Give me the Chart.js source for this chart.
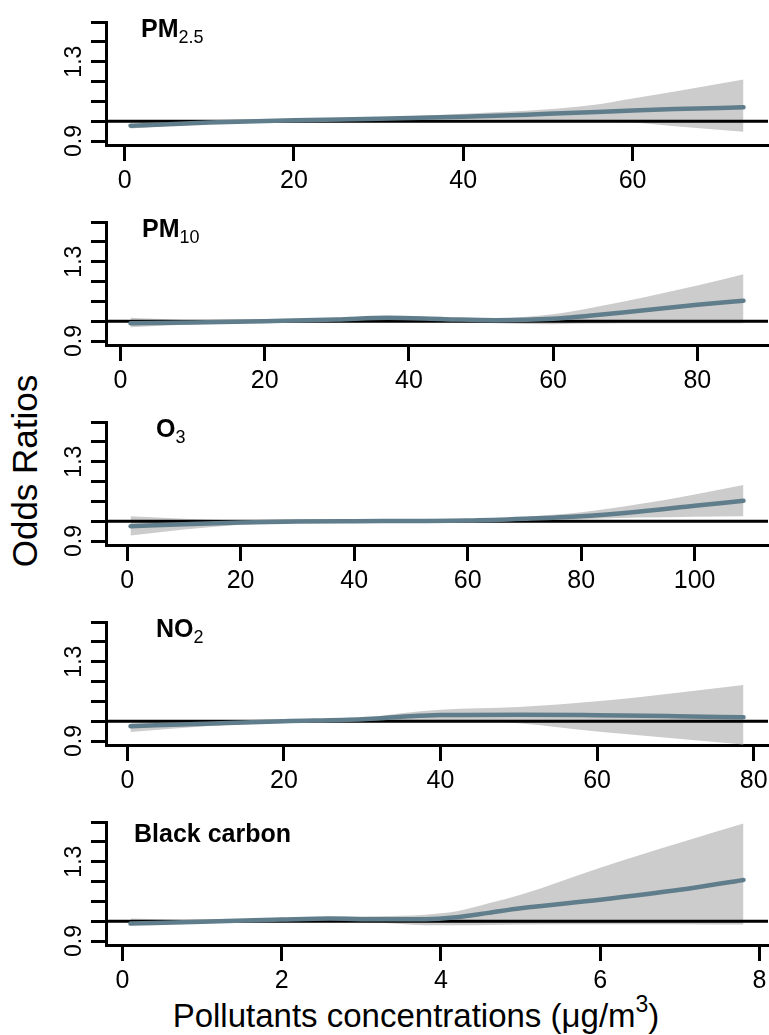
<!DOCTYPE html>
<html>
<head>
<meta charset="utf-8">
<script src="https://cdn.jsdelivr.net/npm/chart.js@4.4.1/dist/chart.umd.min.js"></script>
<style>
  body { margin: 0; background: #fff; }
  #wrap { position: relative; width: 769px; height: 1035px; overflow: hidden; background: #fff;
          font-family: "Liberation Sans", Arial, Helvetica, sans-serif; color: #000; }
  .panel { position: absolute; left: 0; width: 769px; height: 200px; overflow: hidden; }
  .panel canvas { position: absolute; left: 0; top: 0; }
  .tag { position: absolute; font-weight: bold; font-size: 25px; line-height: 1; white-space: nowrap; }
  .tag .sub { font-weight: normal; font-size: 18px; position: relative; top: 6px; }
  #ylab { position: absolute; left: 24px; top: 471px; font-size: 35px; line-height: 1; white-space: nowrap;
          transform: translate(-50%, -50%) rotate(-90deg); }
  #xlab { position: absolute; left: 416px; top: 999px; font-size: 33px; line-height: 1; white-space: nowrap;
          transform: translateX(-50%); }
  #xlab .sup { font-size: 23px; position: relative; top: -15px; }
</style>
</head>
<body>
<div id="wrap">
  <div id="ylab">Odds Ratios</div>
  <div id="xlab">Pollutants concentrations (μg/m<span class="sup">3</span>)</div>
</div>
<script>
// y axis (shared by every panel)
const yTicks = [0.9, 1.0, 1.1, 1.2, 1.3, 1.4, 1.5];
const yLabelled = [0.9, 1.3];
const yMin = 0.88, yMax = 1.5;

// PM2.5
const pm25X = [0.7, 10, 20, 30, 40, 50, 55, 60, 65, 73.1];
const pm25OR = [0.977, 0.993, 1.005, 1.012, 1.022, 1.037, 1.045, 1.054, 1.061, 1.070];
const pm25Hi = [0.985, 0.998, 1.009, 1.018, 1.037, 1.060, 1.080, 1.115, 1.150, 1.210];
const pm25Lo = [0.963, 0.988, 1.001, 1.006, 1.010, 1.005, 1.000, 0.993, 0.975, 0.947];
const pm25Ticks = [0, 20, 40, 60];

// PM10
const pm10X = [1.4, 10, 20, 30, 37, 45, 52, 60, 65, 70, 75, 80, 86.4];
const pm10OR = [0.990, 0.993, 1.000, 1.008, 1.017, 1.010, 1.005, 1.012, 1.028, 1.045, 1.064, 1.083, 1.103];
const pm10Hi = [1.017, 1.005, 1.003, 1.013, 1.022, 1.017, 1.015, 1.035, 1.065, 1.100, 1.140, 1.180, 1.237];
const pm10Lo = [0.970, 0.985, 0.997, 1.003, 1.010, 1.000, 0.990, 0.985, 0.988, 0.990, 0.990, 0.990, 0.990];
const pm10Ticks = [0, 20, 40, 60, 80];

// O3
const o3X = [0.6, 10, 20, 30, 40, 50, 60, 70, 80, 90, 100, 108.6];
const o3OR = [0.975, 0.985, 0.993, 0.998, 1.000, 1.001, 1.003, 1.012, 1.025, 1.048, 1.078, 1.103];
const o3Hi = [1.025, 1.012, 1.004, 1.002, 1.003, 1.004, 1.007, 1.022, 1.045, 1.085, 1.135, 1.183];
const o3Lo = [0.928, 0.958, 0.982, 0.994, 0.997, 0.998, 1.000, 1.004, 1.010, 1.018, 1.023, 1.025];
const o3Ticks = [0, 20, 40, 60, 80, 100];

// NO2
const no2X = [0.4, 10, 20, 30, 35, 40, 50, 60, 70, 78.7];
const no2OR = [0.975, 0.987, 1.000, 1.010, 1.022, 1.031, 1.033, 1.030, 1.025, 1.020];
const no2Hi = [0.990, 0.995, 1.004, 1.017, 1.040, 1.058, 1.072, 1.100, 1.142, 1.182];
const no2Lo = [0.945, 0.975, 0.996, 1.003, 1.005, 1.006, 0.990, 0.948, 0.913, 0.883];
const no2Ticks = [0, 20, 40, 60, 80];

// Black carbon
const bcX = [0.1, 1, 2, 2.6, 3.2, 3.8, 4.2, 4.6, 5, 6, 7, 7.8];
const bcOR = [0.988, 0.997, 1.008, 1.013, 1.010, 1.010, 1.020, 1.042, 1.065, 1.108, 1.158, 1.208];
const bcHi = [1.013, 1.005, 1.017, 1.022, 1.025, 1.033, 1.050, 1.090, 1.133, 1.270, 1.395, 1.492];
const bcLo = [0.980, 0.990, 1.002, 1.000, 0.994, 0.980, 0.979, 0.981, 0.983, 0.985, 0.985, 0.983];
const bcTicks = [0, 2, 4, 6, 8];

const panels = [
    { tag: 'PM', sub: '2.5', tagX: 141, tagTop: 16, x: pm25X, or: pm25OR, hi: pm25Hi, lo: pm25Lo, ticks: pm25Ticks },
    { tag: 'PM', sub: '10', tagX: 142, tagTop: 16, x: pm10X, or: pm10OR, hi: pm10Hi, lo: pm10Lo, ticks: pm10Ticks },
    { tag: 'O', sub: '3', tagX: 156, tagTop: 16, x: o3X, or: o3OR, hi: o3Hi, lo: o3Lo, ticks: o3Ticks },
    { tag: 'NO', sub: '2', tagX: 156, tagTop: 16, x: no2X, or: no2OR, hi: no2Hi, lo: no2Lo, ticks: no2Ticks },
    { tag: 'Black carbon', sub: '', tagX: 134, tagTop: 21, x: bcX, or: bcOR, hi: bcHi, lo: bcLo, ticks: bcTicks },
];

const CANVAS_W = 800, PANEL_H = 200;
const AREA_RIGHT = 768, AREA_TOP = 22, Y_AXIS_W = 106, X_AXIS_H = 55;
const lineColor = '#607d8b';
const bandColor = '#cccccc';
const axisWidth = 3;
const fontFamily = '"Liberation Sans", Arial, Helvetica, sans-serif';

const wrap = document.getElementById('wrap');

function buildPanel(p, i) {
    const div = document.createElement('div');
    div.className = 'panel';
    div.style.top = (i * PANEL_H) + 'px';
    const canvas = document.createElement('canvas');
    canvas.width = CANVAS_W;
    canvas.height = PANEL_H;
    canvas.style.width = CANVAS_W + 'px';
    canvas.style.height = PANEL_H + 'px';
    div.appendChild(canvas);

    const tag = document.createElement('div');
    tag.className = 'tag';
    tag.style.left = p.tagX + 'px';
    tag.style.top = p.tagTop + 'px';
    tag.textContent = p.tag;
    if (p.sub) {
        const s = document.createElement('span');
        s.className = 'sub';
        s.textContent = p.sub;
        tag.appendChild(s);
    }
    div.appendChild(tag);
    wrap.appendChild(div);

    // R-style axis range: data range plus 4% on each side
    const first = p.x[0], last = p.x[p.x.length - 1];
    const span = last - first;
    const xMin = first - 0.04 * span;
    const xMax = last + 0.04 * span;
    const pts = arr => p.x.map((x, k) => ({ x: x, y: arr[k] }));

    new Chart(canvas, {
        type: 'line',
        data: {
            datasets: [
                { // fitted odds ratio (drawn on top)
                    data: pts(p.or), borderColor: lineColor, borderWidth: 4.5, pointRadius: 0,
                    cubicInterpolationMode: 'monotone', borderCapStyle: 'round', fill: false
                },
                { // reference line at OR = 1
                    data: [{ x: xMin, y: 1 }, { x: xMax, y: 1 }], borderColor: '#000', borderWidth: axisWidth,
                    pointRadius: 0, fill: false
                },
                { // upper CI, filled down to lower CI
                    data: pts(p.hi), borderColor: 'rgba(0,0,0,0)', borderWidth: 0, pointRadius: 0,
                    cubicInterpolationMode: 'monotone', backgroundColor: bandColor, fill: 3
                },
                { // lower CI
                    data: pts(p.lo), borderColor: 'rgba(0,0,0,0)', borderWidth: 0, pointRadius: 0,
                    cubicInterpolationMode: 'monotone', fill: false
                }
            ]
        },
        options: {
            responsive: false,
            animation: false,
            events: [],
            layout: { padding: { left: 0, top: AREA_TOP, right: CANVAS_W - AREA_RIGHT, bottom: 0 } },
            plugins: { legend: { display: false }, tooltip: { enabled: false } },
            scales: {
                x: {
                    type: 'linear', min: xMin, max: xMax,
                    afterBuildTicks: s => { s.ticks = p.ticks.map(v => ({ value: v })); },
                    afterFit: s => { s.height = X_AXIS_H; },
                    grid: { display: true, drawOnChartArea: false, drawTicks: true, tickLength: 16, color: '#000', lineWidth: axisWidth },
                    border: { display: true, color: '#000', width: axisWidth },
                    ticks: { color: '#000', font: { family: fontFamily, size: 25 }, padding: 5,
                             autoSkip: false, maxRotation: 0, minRotation: 0 }
                },
                y: {
                    type: 'linear', min: yMin, max: yMax,
                    afterBuildTicks: s => { s.ticks = yTicks.map(v => ({ value: v })); },
                    afterFit: s => { s.width = Y_AXIS_W; },
                    grid: { display: true, drawOnChartArea: false, drawTicks: true, tickLength: 15, color: '#000', lineWidth: axisWidth },
                    border: { display: true, color: '#000', width: axisWidth },
                    ticks: {
                        color: '#000', font: { family: fontFamily, size: 23 }, padding: 0,
                        autoSkip: false, minRotation: 90, maxRotation: 90, crossAlign: 'center',
                        callback: v => yLabelled.some(l => Math.abs(l - v) < 1e-6) ? v.toFixed(1) : ''
                    }
                }
            }
        }
    });
}

panels.forEach(buildPanel);
</script>
</body>
</html>
